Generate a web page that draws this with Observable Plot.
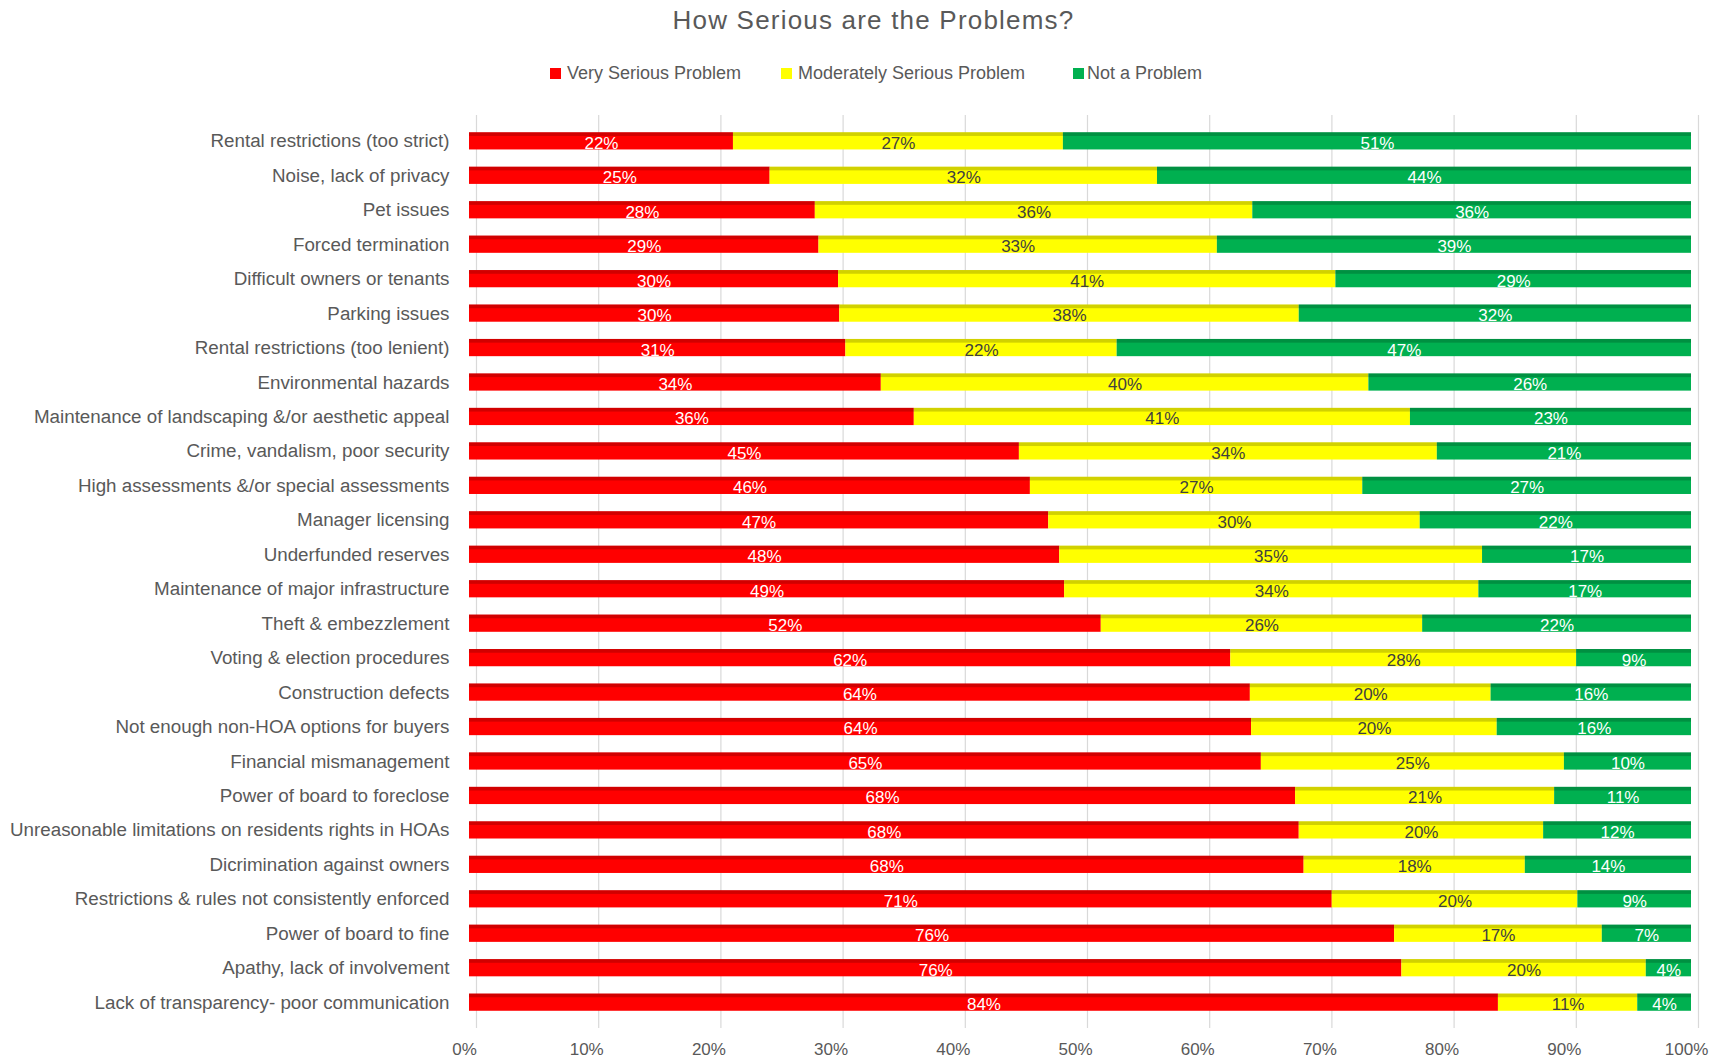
<!DOCTYPE html>
<html>
<head>
<meta charset="utf-8">
<script src="https://cdn.jsdelivr.net/npm/d3@7"></script>
<script src="https://cdn.jsdelivr.net/npm/@observablehq/plot@0.6"></script>
<style>
  html, body { margin: 0; padding: 0; background: #ffffff; }
  #page { position: relative; width: 1720px; height: 1058px; overflow: hidden; font-family: "Liberation Sans", Arial, sans-serif; color: #595959; }
  #title { position: absolute; left: 0; top: 7px; width: 1747px; text-align: center; font-size: 26px; line-height: 26px; letter-spacing: 1.2px; color: #595959; white-space: nowrap; }
  .leg-sq { position: absolute; width: 11px; height: 11px; top: 68px; }
  .leg-tx { position: absolute; top: 64px; font-size: 18px; line-height: 18px; color: #595959; white-space: nowrap; }
  #chart { position: absolute; left: 0; top: 100px; }
</style>
</head>
<body>
<div id="page">
  <div id="title">How Serious are the Problems?</div>
  <div id="legend"></div>
  <div id="chart"></div>
</div>
<script>
const categories = [
  "Rental restrictions (too strict)",
  "Noise, lack of privacy",
  "Pet issues",
  "Forced termination",
  "Difficult owners or tenants",
  "Parking issues",
  "Rental restrictions (too lenient)",
  "Environmental hazards",
  "Maintenance of landscaping &/or aesthetic appeal",
  "Crime, vandalism, poor security",
  "High assessments &/or special assessments",
  "Manager licensing",
  "Underfunded reserves",
  "Maintenance of major infrastructure",
  "Theft & embezzlement",
  "Voting & election procedures",
  "Construction defects",
  "Not enough non-HOA options for buyers",
  "Financial mismanagement",
  "Power of board to foreclose",
  "Unreasonable limitations on residents rights in HOAs",
  "Dicrimination against owners",
  "Restrictions & rules not consistently enforced",
  "Power of board to fine",
  "Apathy, lack of involvement",
  "Lack of transparency- poor communication"
];
const verySerious = [21.6, 24.6, 28.3, 28.6, 30.2, 30.3, 30.8, 33.7, 36.4, 45.0, 45.9, 47.4, 48.3, 48.7, 51.7, 62.3, 63.9, 64.0, 64.8, 67.6, 67.9, 68.3, 70.6, 75.7, 76.3, 84.2];
const moderately  = [27.0, 31.7, 35.8, 32.6, 40.7, 37.6, 22.2, 39.9, 40.6, 34.2, 27.2, 30.4, 34.6, 33.9, 26.3, 28.3, 19.7, 20.1, 24.8, 21.2, 20.0, 18.1, 20.1, 17.0, 20.0, 11.4];
const notProblem  = [51.4, 43.7, 35.9, 38.8, 29.1, 32.1, 47.0, 26.4, 23.0, 20.8, 26.9, 22.2, 17.1, 17.4, 22.0, 9.4, 16.4, 15.9, 10.4, 11.2, 12.1, 13.6, 9.3, 7.3, 3.7, 4.4];
const seriesNames = ["Very Serious Problem", "Moderately Serious Problem", "Not a Problem"];
const seriesColors = ["#FF0000", "#FFFF00", "#00B050"];
const labelColors = ["#FFFFFF", "#404040", "#FFFFFF"];
const xTicks = [0, 10, 20, 30, 40, 50, 60, 70, 80, 90, 100];

const seriesValues = [verySerious, moderately, notProblem];
const rows = categories.flatMap((c, i) =>
  seriesNames.map((s, j) => ({category: c, series: s, value: seriesValues[j][i]}))
);

// Legend (HTML, above the SVG)
const legendSquares = [550, 781, 1073];
const legendTexts = [567, 798, 1087];
const legend = document.getElementById("legend");
seriesNames.forEach((s, j) => {
  const sq = document.createElement("div");
  sq.className = "leg-sq";
  sq.style.left = legendSquares[j] + "px";
  sq.style.background = seriesColors[j];
  legend.appendChild(sq);
  const tx = document.createElement("div");
  tx.className = "leg-tx";
  tx.style.left = legendTexts[j] + "px";
  tx.textContent = s;
  legend.appendChild(tx);
});

const stackOpts = {x: "value", y: "category", z: "series", order: seriesNames};

const chart = Plot.plot({
  width: 1720,
  height: 958,
  marginLeft: 469,
  marginRight: 29,
  marginTop: 15,
  marginBottom: 30,
  x: {domain: [0, 100], ticks: xTicks, tickFormat: d => d + "%"},
  y: {domain: categories, padding: 0.5, round: false},
  color: {domain: seriesNames, range: seriesColors},
  style: {fontFamily: "Liberation Sans, Arial, sans-serif", color: "#595959", background: "#ffffff", overflow: "visible"},
  marks: [
    Plot.gridX(xTicks, {stroke: "#d9d9d9", strokeOpacity: 1, strokeWidth: 1.2, dx: 7}),
    Plot.barX(rows, Plot.stackX({...stackOpts, fill: "series"})),
    Plot.barX(rows, Plot.stackX({...stackOpts, fill: "#000000", fillOpacity: 0.18, insetBottom: 13.5})),
    ...seriesNames.map((s, j) =>
      Plot.text(rows, Plot.stackX({
        ...stackOpts,
        text: d => d.series === s ? Math.round(d.value) + "%" : "",
        fill: labelColors[j],
        fontSize: 17,
        dy: 2
      }))
    ),
    Plot.axisX({ticks: xTicks, tickSize: 0, tickPadding: 14, fontSize: 17, dx: -5, tickFormat: d => d + "%", label: null}),
    Plot.axisY({tickSize: 0, tickPadding: 20, fontSize: 18.8, label: null})
  ]
});
document.getElementById("chart").appendChild(chart);
</script>
</body>
</html>
